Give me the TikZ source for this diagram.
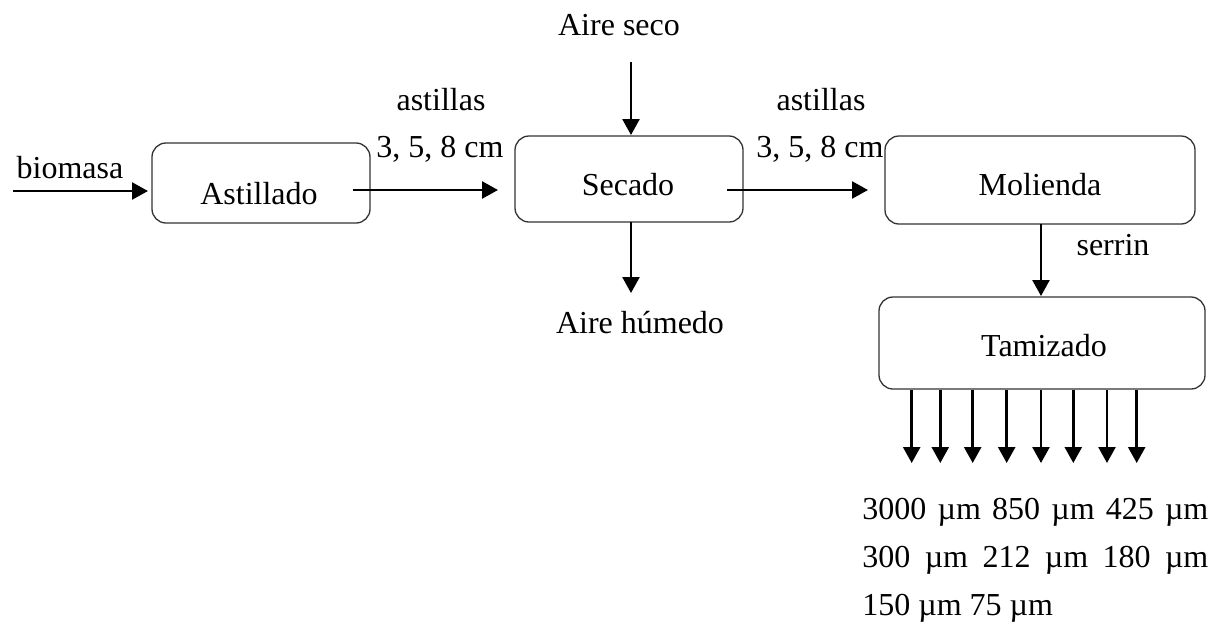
\documentclass[tikz,border=0pt]{standalone}
\usepackage{fontspec}
\setmainfont{Liberation Serif}
\usetikzlibrary{arrows.meta}
\begin{document}
\begin{tikzpicture}[x=0.5pt,y=-0.5pt,
  font=\fontsize{16}{19}\selectfont,
  procbox/.style={draw=black!80,line width=0.65pt,rounded corners=7pt,inner sep=0pt},
  txt/.style={inner sep=0pt,anchor=base},
  flow/.style={line width=1.25pt,-{Triangle[length=8pt,width=8.5pt]}}]
\useasboundingbox (0,0) rectangle (1217,634);
% boxes
\node[procbox,minimum width=109pt,minimum height=40pt] (ast) at (261,183) {};
\node[procbox,minimum width=114pt,minimum height=43pt] (sec) at (629,179) {};
\node[procbox,minimum width=155pt,minimum height=44pt] (mol) at (1040,180) {};
\node[procbox,minimum width=163pt,minimum height=46pt] (tam) at (1042,343) {};
% box texts
\node[txt] (tast) at (259,204) {Astillado};
\node[txt] (tsec) at (628,195) {Secado};
\node[txt] (tmol) at (1040,195) {Molienda};
\node[txt] (ttam) at (1044,356) {Tamizado};
% labels
\node[txt] (bio) at (70,178) {biomasa};
\node[txt] (as1) at (441,110) {astillas};
\node[txt] (cm1) at (440,157) {3, 5, 8 cm};
\node[txt] (as2) at (821,110) {astillas};
\node[txt] (cm2) at (820,157) {3, 5, 8 cm};
\node[txt] (ase) at (619,35) {Aire seco};
\node[txt] (ahu) at (640,333) {Aire húmedo};
\node[txt] (ser) at (1113,255) {serrin};
\node[txt,anchor=base west] (s1) at (862,519) {\makebox[173pt][s]{3000 µm 850 µm 425 µm}};
\node[txt,anchor=base west] (s2) at (862,567) {\makebox[173pt][s]{300 µm 212 µm 180 µm}};
\node[txt,anchor=base west] (s3) at (862,615) {150 µm 75 µm};
% free ends
\coordinate (bioS) at (13,191);
\coordinate (bioE) at (148,191);
\coordinate (a1S) at (353,190);
\coordinate (a1E) at (498,190);
\coordinate (a2S) at (727,190);
\coordinate (a2E) at (868,190);
\coordinate (asS) at (631,62);
\coordinate (asE) at (631,135);
\coordinate (ahS) at (631,222);
\coordinate (ahE) at (631,293);
\coordinate (mS) at (1041,224);
\coordinate (mE) at (1041,296);
% arrows
\draw[flow] (bioS) -- (bioE);
\draw[flow] (a1S) -- (a1E);
\draw[flow] (a2S) -- (a2E);
\draw[flow] (asS) -- (asE);
\draw[flow] (ahS) -- (ahE);
\draw[flow] (mS) -- (mE);
\foreach \i/\x in {1/911.7,2/940.3,3/972.7,4/1006.7,5/1041,6/1073.3,7/1107,8/1136.7}{
  \coordinate (tS\i) at (\x,390);
  \coordinate (tE\i) at (\x,463);
  \draw[flow] (tS\i) -- (tE\i);
}
\end{tikzpicture}
\end{document}
